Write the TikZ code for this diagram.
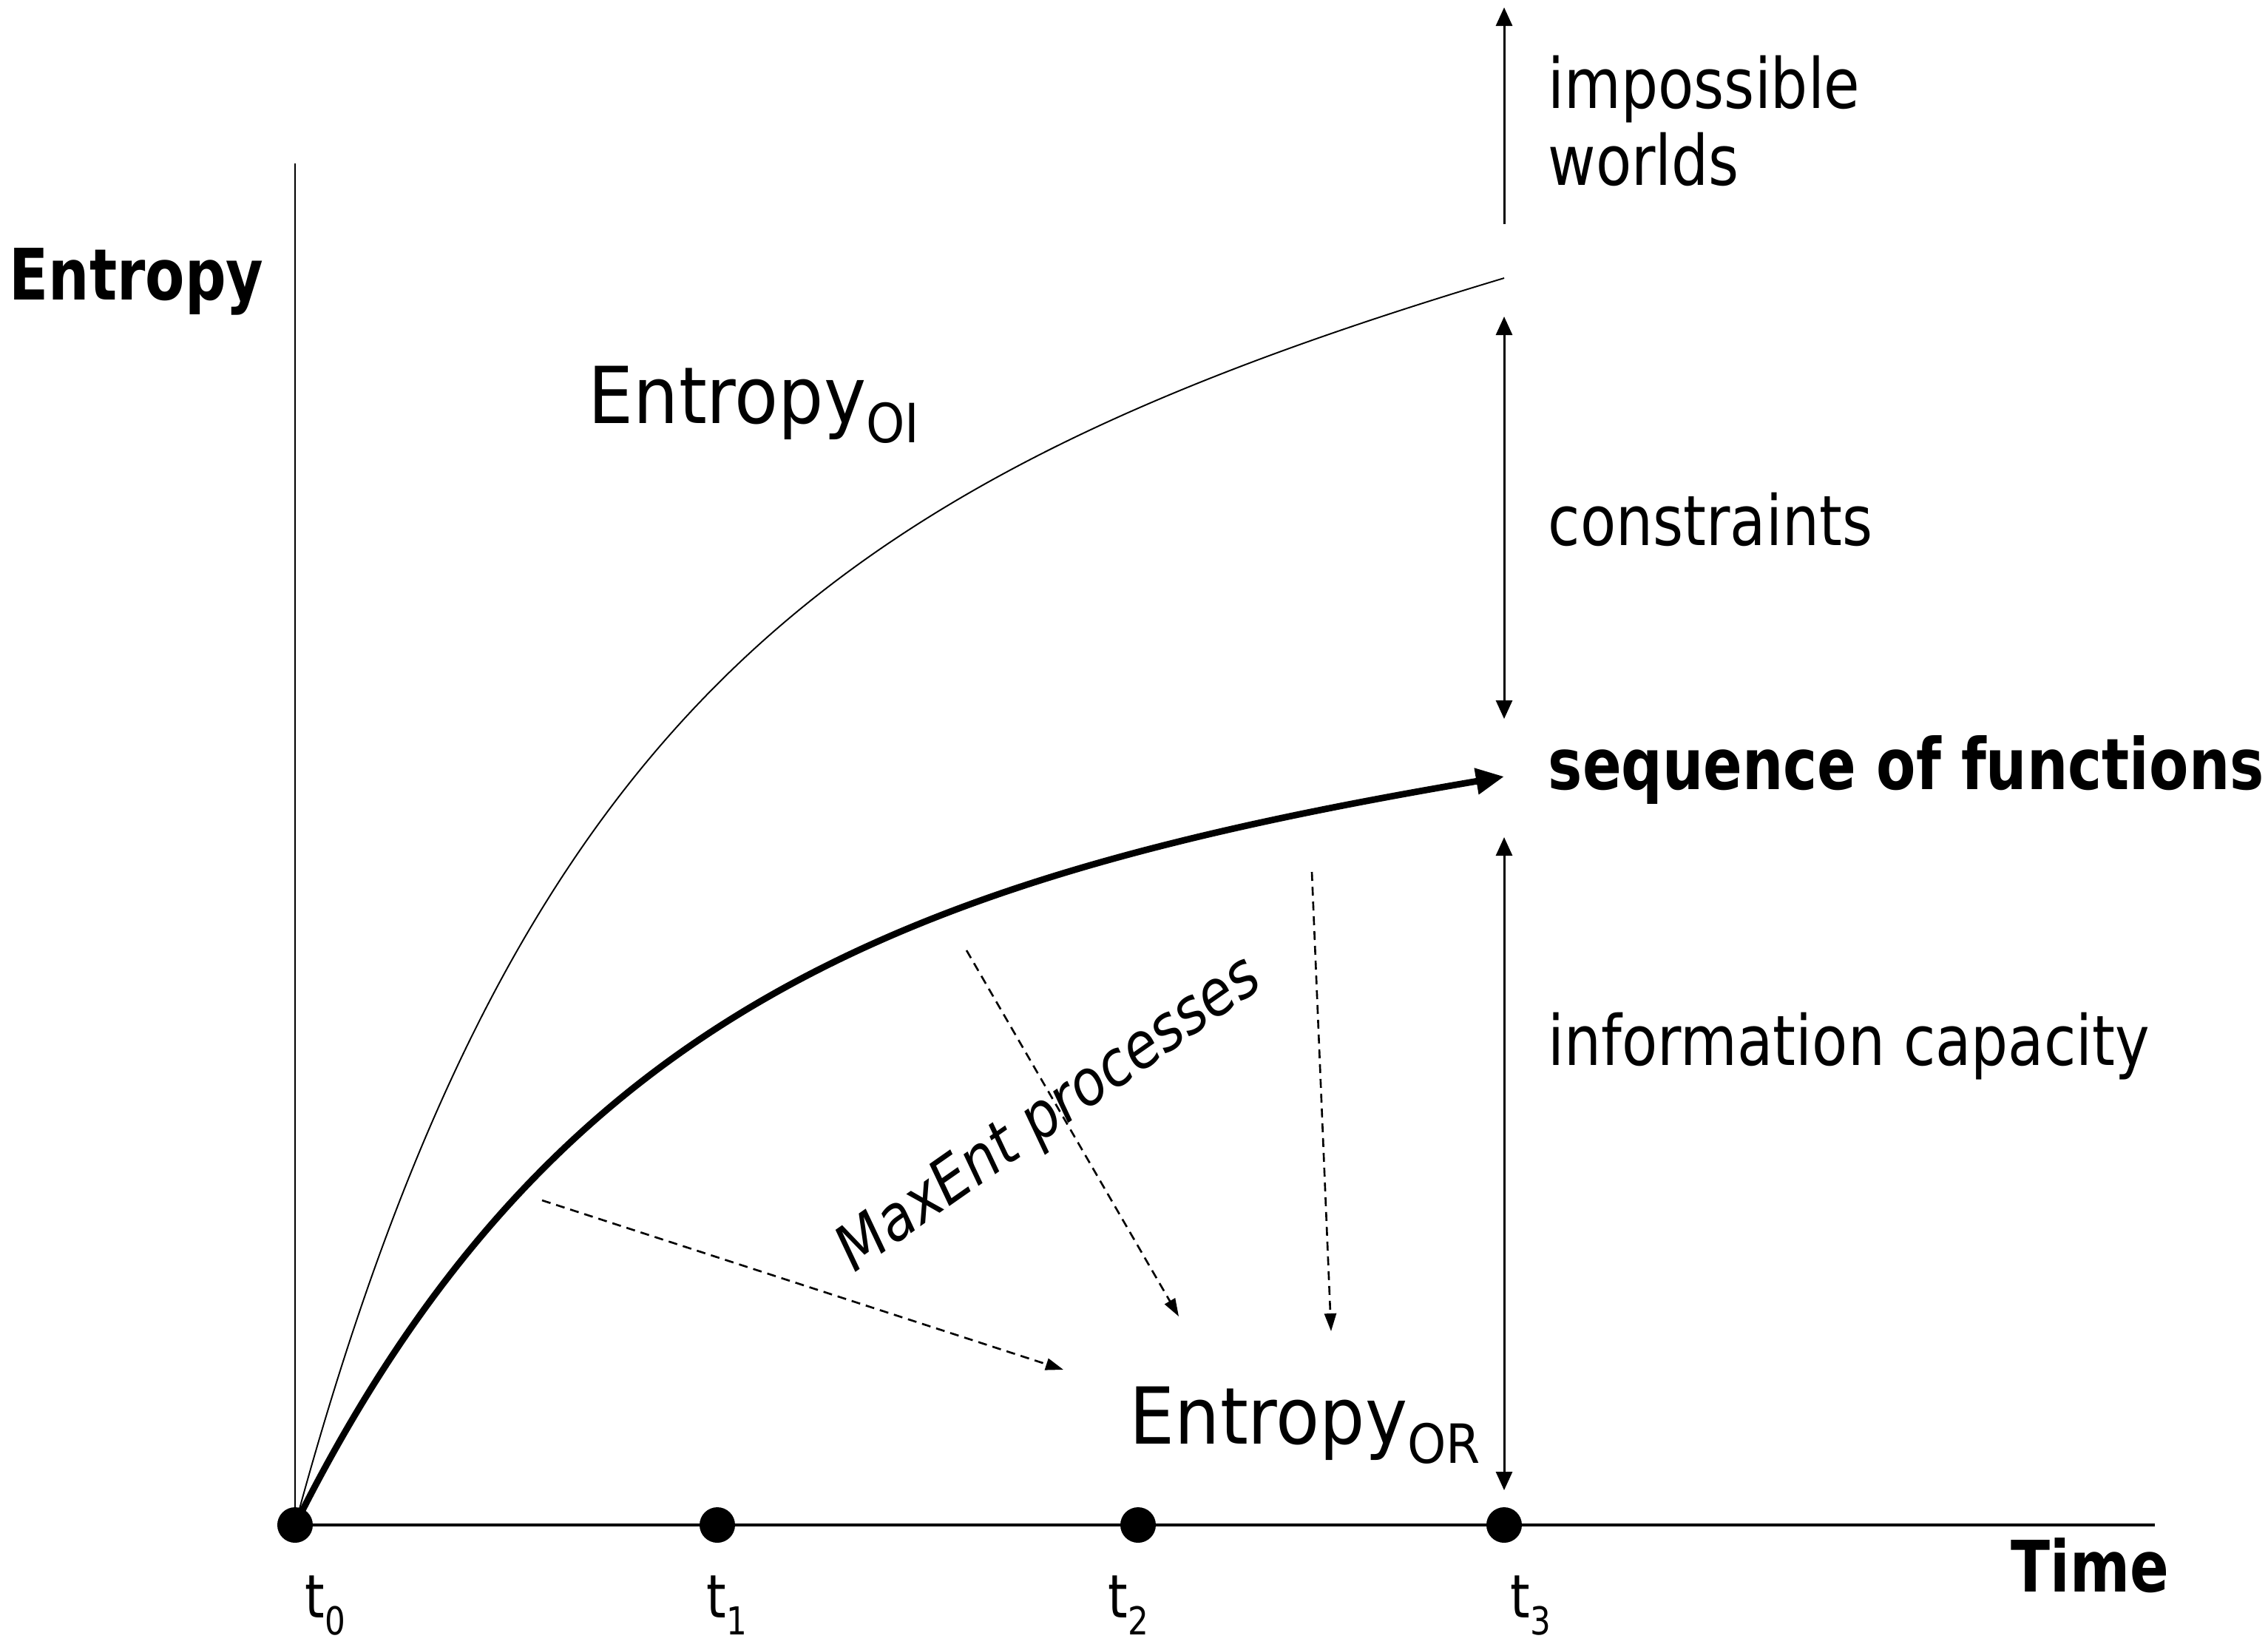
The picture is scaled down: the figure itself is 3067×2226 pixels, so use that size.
\documentclass[tikz,border=0pt]{standalone}
\usepackage{fontspec}
\usetikzlibrary{arrows.meta}
\newfontfamily\lblf[FakeStretch=0.84]{DejaVu Sans}
\newfontfamily\blblf[FakeStretch=0.81]{DejaVu Sans}
\newfontfamily\entf[FakeStretch=0.91]{DejaVu Sans}
\newfontfamily\oblf[FakeStretch=0.88]{DejaVu Sans}
\begin{document}
\begin{tikzpicture}[x=0.01cm,y=-0.01cm,
  lbl/.style={inner sep=0pt, anchor=base west, font=\lblf\fontsize{26.7}{32}\selectfont},
  blbl/.style={inner sep=0pt, anchor=base west, font=\blblf\bfseries\fontsize{27.3}{32}\selectfont},
  entlbl/.style={inner sep=0pt, anchor=base west, font=\entf\fontsize{30.2}{36}\selectfont},
  tlbl/.style={inner sep=0pt, anchor=base west, font=\lblf\fontsize{23}{28}\selectfont},
  dot/.style={circle, fill=black, inner sep=0pt, minimum size=0.48cm},
  varrow/.style={line width=0.85pt, {Triangle[length=0.25cm,width=0.22cm]}-{Triangle[length=0.25cm,width=0.22cm]}},
  dasharrow/.style={line width=0.75pt, dash pattern=on 0.12cm off 0.08cm, -{Triangle[length=0.24cm,width=0.16cm]}},
]
\useasboundingbox (0,0) rectangle (3067,2226);
% axes
\coordinate (O) at (399,2062);
\coordinate (ytop) at (399,221);
\coordinate (xend) at (2914,2062);
\draw[line width=0.75pt] (ytop) -- (O);
\draw[line width=1.15pt] (O) -- (xend);
\node[dot] (d0) at (399,2062) {};
\node[dot] (d1) at (970,2062) {};
\node[dot] (d2) at (1539,2062) {};
\node[dot] (d3) at (2034,2062) {};
% time labels
\node[tlbl] (t0) at (412,2187) {t\raisebox{-0.23cm}{\fontsize{14.8}{16}\selectfont 0}};
\node[tlbl] (t1) at (955,2187) {t\raisebox{-0.23cm}{\fontsize{14.8}{16}\selectfont 1}};
\node[tlbl] (t2) at (1498,2187) {t\raisebox{-0.23cm}{\fontsize{14.8}{16}\selectfont 2}};
\node[tlbl] (t3) at (2042,2187) {t\raisebox{-0.23cm}{\fontsize{14.8}{16}\selectfont 3}};
\node[blbl] (time) at (2719,2152) {Time};
\node[blbl] (entropy) at (12,405) {Entropy};
% curves
\coordinate (oiend) at (2034,376);
\coordinate (orend) at (2034,1050);
\draw[line width=0.55pt] (O) .. controls (699,952) and (1134,646) .. (oiend);
\draw[line width=2.5pt, -{Triangle[length=0.38cm,width=0.34cm]}] (O) .. controls (749,1362) and (1234,1186) .. (orend);
% vertical arrows
\coordinate (a1b) at (2034,303);
\coordinate (a1t) at (2034,10);
\coordinate (a2t) at (2034,428);
\coordinate (a2b) at (2034,972);
\coordinate (a3t) at (2034,1132);
\coordinate (a3b) at (2034,2015);
\draw[line width=0.85pt, -{Triangle[length=0.25cm,width=0.22cm]}] (a1b) -- (a1t);
\draw[varrow] (a2t) -- (a2b);
\draw[varrow] (a3t) -- (a3b);
% right labels
\node[lbl] (imp) at (2093,146) {impossible};
\node[lbl] (worlds) at (2093,250) {worlds};
\node[lbl] (constr) at (2093,737) {constraints};
\node[blbl] (seq) at (2093,1067) {sequence of functions};
\node[lbl] (info) at (2093,1440) {information capacity};
% entropy labels
\node[entlbl] (eoi) at (795,572) {Entropy\raisebox{-0.26cm}{\fontsize{20.8}{24}\selectfont OI}};
\node[entlbl] (eor) at (1527,1952) {Entropy\raisebox{-0.26cm}{\fontsize{20.8}{24}\selectfont OR}};
% dashed arrows
\coordinate (s1) at (733,1623); \coordinate (e1) at (1438,1852);
\coordinate (s2) at (1307,1285); \coordinate (e2) at (1594,1780);
\coordinate (s3) at (1774,1179); \coordinate (e3) at (1800,1800);
\draw[dasharrow] (s1) -- (e1);
\draw[dasharrow] (s2) -- (e2);
\draw[dasharrow] (s3) -- (e3);
\node[inner sep=0pt, anchor=base, rotate=35, font=\oblf\itshape\fontsize{24.2}{28}\selectfont] (maxent) at (1433,1527) {MaxEnt processes};
\end{tikzpicture}
\end{document}
